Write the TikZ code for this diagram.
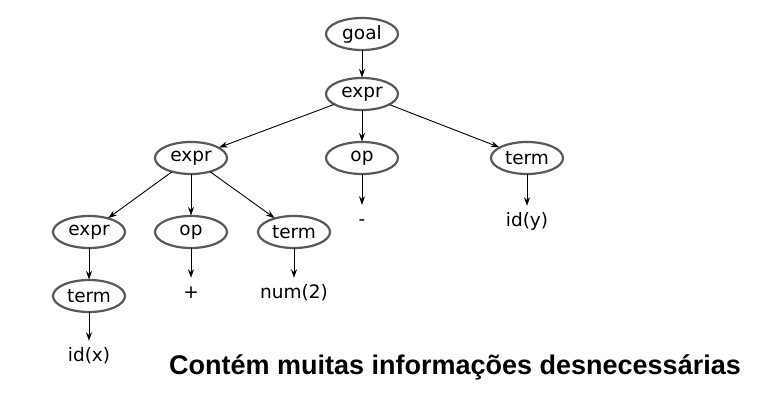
\documentclass[tikz,border=0pt]{standalone}
\usepackage{fontspec}
\setmainfont{DejaVu Sans}
\newfontfamily\titlefont{Liberation Sans}
\usetikzlibrary{shapes.geometric,arrows.meta}
\tikzset{
  nt/.style={ellipse, draw=black!65, line width=2.2pt, minimum width=72pt, minimum height=32pt, inner sep=0pt, outer sep=0.5pt, font=\fontsize{18.5}{20}\selectfont},
  leaf/.style={anchor=base, inner xsep=2pt, inner ysep=7pt, text height=14pt, text depth=4pt, font=\fontsize{18.5}{20}\selectfont},
  edge/.style={draw=black, line width=0.9pt, -{Stealth[length=8.5pt,width=6pt]}},
}
\begin{document}
\begin{tikzpicture}[x=1pt,y=-1pt]
\useasboundingbox (0,0) rectangle (772,414);
\node[nt] (goal) at (362,34) {goal};
\node[nt] (e1) at (362,94) {expr};
\node[nt] (e2) at (191,158) {expr};
\node[nt] (op1) at (362,158) {op};
\node[nt] (t1) at (527,158) {term};
\node[nt] (e3) at (89,232) {expr};
\node[nt] (op2) at (191,232) {op};
\node[nt] (t2) at (294,232) {term};
\node[nt] (t3) at (89,296) {term};
\node[leaf] (idx) at (89,362) {id(x)};
\node[leaf] (plus) at (191,299) {+};
\node[leaf] (num) at (294,299) {num(2)};
\node[leaf] (minus) at (362,226) {-};
\node[leaf] (idy) at (527,227) {id(y)};
\node[anchor=base, font=\titlefont\bfseries\fontsize{27}{30}\selectfont] (title) at (455,375) {Contém muitas informações desnecessárias};
\draw[edge] (goal) -- (e1);
\draw[edge] (e1) -- (e2);
\draw[edge] (e1) -- (op1);
\draw[edge] (e1) -- (t1);
\draw[edge] (e2) -- (e3);
\draw[edge] (e2) -- (op2);
\draw[edge] (e2) -- (t2);
\draw[edge] (e3) -- (t3);
\draw[edge] (t3) -- (idx);
\draw[edge] (op2) -- (plus);
\draw[edge] (t2) -- (num);
\draw[edge] (op1) -- (minus);
\draw[edge] (t1) -- (idy);
\end{tikzpicture}
\end{document}
